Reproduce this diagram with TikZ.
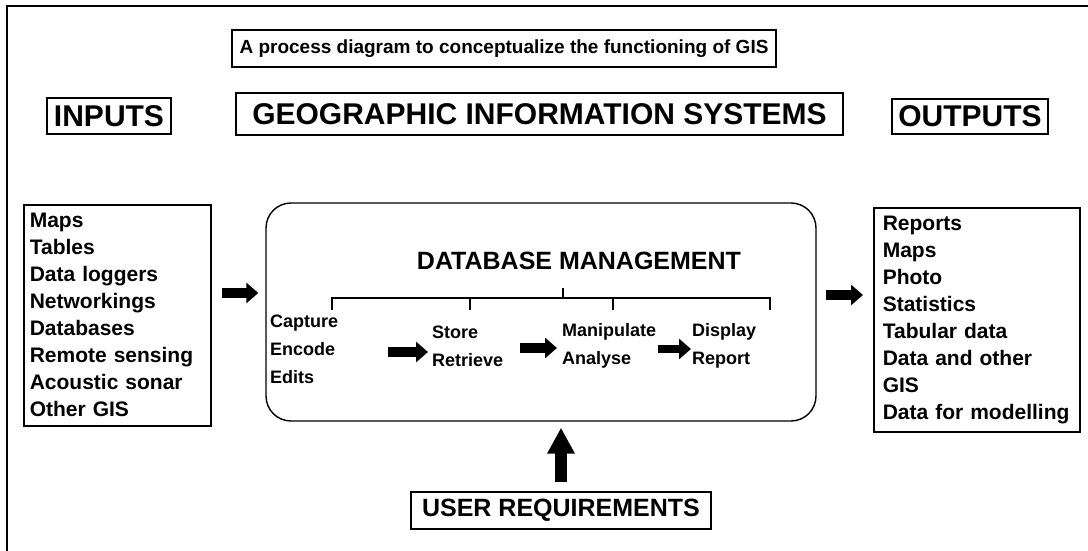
\documentclass[tikz,border=0pt]{standalone}
\usepackage{fontspec}
\setmainfont{Liberation Sans}
\usetikzlibrary{arrows.meta,positioning}
\begin{document}
\begin{tikzpicture}[x=1pt,y=-1pt,
    box/.style={draw,line width=1.6pt,inner sep=0pt,font=\bfseries\fontsize{30}{36}\selectfont},
    listbox/.style={draw,line width=1.6pt,anchor=north west,align=left,inner ysep=0pt,font=\bfseries\fontsize{21}{27}\selectfont},
    stepnode/.style={anchor=west,align=left,inner sep=0pt,font=\bfseries\fontsize{18}{28}\selectfont},
    fatarrow/.style={line width=10pt,-{Triangle[length=12pt,width=20pt]}}]
    \useasboundingbox (0,0) rectangle (1088,551);
    \draw[line width=1.5pt] (7,551) -- (7,6) -- (1088,6);
    % headings
    \node[box,font=\bfseries\fontsize{19}{23}\selectfont,minimum width=544pt,minimum height=37pt] (title) at (504,48.5) {A process diagram to conceptualize the functioning of GIS};
    \node[box,minimum width=124pt,minimum height=36pt] (inputs) at (109,116) {INPUTS};
    \node[box,minimum width=607pt,minimum height=42pt] (gis) at (539.5,114) {GEOGRAPHIC INFORMATION SYSTEMS};
    \node[box,minimum width=156pt,minimum height=35pt] (outputs) at (970,116.5) {OUTPUTS};
    % lists
    \node[listbox,text width=175pt,inner xsep=6pt,minimum height=221pt] (inlist) at (23,204)
        {Maps\\Tables\\Data loggers\\Networkings\\Databases\\Remote sensing\\Acoustic sonar\\Other GIS};
    \node[listbox,text width=188pt,inner xsep=9pt,minimum height=224pt] (outlist) at (873,207)
        {Reports\\Maps\\Photo\\Statistics\\Tabular data\\Data and other\\GIS\\Data for modelling};
    % the system
    \node[draw,line width=1.4pt,rounded corners=25pt,minimum width=550pt,minimum height=218pt] (core) at (541,312) {};
    \node[inner sep=0pt,font=\bfseries\fontsize{25}{30}\selectfont] (dbm) at (579,261) {DATABASE MANAGEMENT};
    \draw[line width=2.2pt] (332,310) -- (332,298) -- (770,298) -- (770,310);
    \foreach \x in {470,613}
        \draw[line width=2.2pt] (\x,298) -- (\x,310);
    \draw[line width=2.2pt] (563,298) -- (563,288);
    \node[stepnode] (capture) at (270,349) {Capture\\Encode\\Edits};
    \node[stepnode] (store) at (432,346) {Store\\Retrieve};
    \node[stepnode] (manip) at (562,346) {Manipulate\\Analyse};
    \node[stepnode] (display) at (692,346) {Display\\Report};
    \draw[fatarrow,shorten <=50pt,shorten >=4pt] ([yshift=-3pt]capture.east) -- ([yshift=-3pt]capture.east -| store.west);
    \draw[fatarrow,shorten <=17pt,shorten >=5pt] ([yshift=-2pt]store.east) -- ([yshift=-2pt]store.east -| manip.west);
    \draw[fatarrow,line width=8pt,shorten <=2pt,shorten >=1pt] ([yshift=-3pt]manip.east) -- ([yshift=-3pt]manip.east -| display.west);
    % flows in and out
    \coordinate (inarrow) at (0,293);
    \coordinate (outarrow) at (0,295);
    \draw[fatarrow,shorten <=10pt,shorten >=7pt] (inlist.east |- inarrow) -- (core.west |- inarrow);
    \draw[fatarrow,shorten <=9pt,shorten >=10pt] (core.east |- outarrow) -- (outlist.west |- outarrow);
    \node[box,font=\bfseries\fontsize{25}{30}\selectfont,minimum width=300pt,minimum height=37pt] (user) at (561,510.5) {USER REQUIREMENTS};
    \draw[line width=12pt,-{Triangle[length=26pt,width=26pt]},shorten <=9pt,shorten >=6pt] (user.north) -- (core.south -| user.north);
\end{tikzpicture}
\end{document}
